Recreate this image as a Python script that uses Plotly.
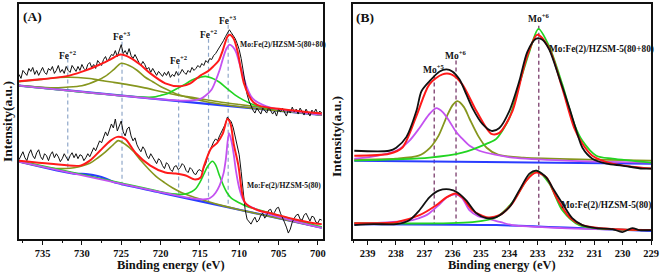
import numpy as np
import plotly.graph_objects as go

# ================= Panel A : Fe 2p (binding energy eV, intensity a.u.) =================
feA_x = np.arange(738.0, 699.49, -0.25)  # sampling grid of the raw spectra (155 points)
feA_top_raw = [166, 162, 170, 167, 165, 172, 169, 173, 166, 170,
               165, 169, 173, 168, 166, 172, 170, 174, 167, 170,
               175, 168, 171, 167, 174, 170, 168, 175, 172, 169,
               174, 170, 176, 172, 170, 176, 178, 173, 176, 172,
               180, 177, 175, 181, 184, 179, 182, 186, 185, 190,
               184, 189, 196, 187, 190, 186, 192, 185, 182, 186,
               181, 178, 175, 179, 176, 171, 173, 168, 172, 169,
               165, 169, 167, 164, 168, 165, 169, 163, 166, 164,
               169, 165, 167, 171, 168, 166, 170, 168, 173, 170,
               172, 175, 173, 177, 175, 180, 178, 182, 181, 185,
               187, 190, 193, 197, 200, 204, 207, 211, 208, 205,
               202, 197, 191, 182, 170, 157, 146, 139, 134, 130,
               127, 132, 129, 126, 132, 129, 127, 133, 130, 126,
               129, 124, 131, 128, 132, 127, 124, 130, 127, 133,
               128, 131, 126, 132, 128, 125, 131, 127, 124, 130,
               127, 131, 126, 129, 127]
feA_bot_raw = [80, 85, 88, 82, 79, 86, 90, 84, 81, 87,
               90, 83, 80, 86, 84, 79, 85, 88, 82, 86,
               83, 78, 81, 86, 83, 79, 84, 87, 82, 86,
               81, 85, 84, 79, 82, 86, 83, 88, 92, 89,
               95, 99, 97, 103, 108, 104, 111, 116, 112, 121,
               109, 114, 119, 108, 104, 111, 113, 104, 99, 102,
               95, 91, 88, 93, 90, 84, 81, 86, 83, 79,
               76, 81, 79, 74, 71, 77, 75, 70, 68, 73,
               74, 70, 72, 76, 74, 69, 67, 72, 70, 66,
               65, 69, 70, 68, 72, 76, 84, 89, 93, 98,
               101, 99, 104, 108, 111, 116, 123, 121, 118, 112,
               104, 96, 85, 68, 47, 30, 20, 17, 15, 19,
               22, 17, 19, 24, 26, 21, 24, 29, 30, 25,
               27, 31, 32, 26, 22, 17, 12, 6, 10, 17,
               21, 24, 25, 20, 19, 24, 26, 21, 18, 23,
               22, 17, 16, 20, 19]

# top sample (80+80) fit
feA_top_fit_x = [738.0, 735.3, 733.0, 731.5, 729.5, 727.7, 726.4, 725.1, 723.9, 722.6, 721.3, 719.4,
                 717.5, 716.2, 714.9, 714.0, 713.3, 712.6, 712.1, 711.5, 711.2, 710.7, 710.2, 709.8,
                 709.4, 708.8, 708.2, 707.3, 704.7, 700.2, 699.5]
feA_top_fit_y = [159, 161, 163, 165, 170, 176, 181, 186, 183, 176, 167, 157,
                 154, 157, 165, 169, 174, 180, 190, 204, 206, 202, 189, 172,
                 157, 145, 138, 134, 131, 127, 126.5]
feA_top_base_x = [738.0, 699.5]
feA_top_base_y = [154.7, 125.1]
feA_top_p1_x = [738, 736, 734, 732, 730.5, 729, 728, 726, 724, 722, 720, 718, 716, 714, 712, 710, 708, 705, 702, 699.5]
feA_top_p1_y = [158.7, 160.2, 162.1, 163.1, 162.9, 161.8, 160.5, 158.0, 155.4, 152.4, 148.8, 145.3, 142.8,
                140.2, 137.7, 135.6, 133.6, 130.3, 127.5, 125.1]
feA_top_p2_x = [738, 734, 732, 730, 728, 727, 726, 725, 724, 723, 722, 721, 720, 719, 718, 716, 714, 712, 708, 699.5]
feA_top_p2_y = [154.7, 152.6, 153.1, 154.5, 160.0, 164.2, 170.5, 177.2, 174.9, 170.2, 163.4, 158.6, 153.8,
                150.1, 146.3, 141.8, 138.2, 135.7, 131.6, 125.1]
feA_top_p3_x = [738, 724, 721, 720, 719, 718, 717, 716, 715, 714.3, 713.5, 712.5, 711.5, 710.5, 709.5,
                708.5, 707, 705, 702, 699.5]
feA_top_p3_y = [154.7, 143.9, 143.1, 144.8, 147.1, 151.3, 155.5, 160.3, 163.0, 164.0, 162.3, 158.1, 151.3,
                145.1, 140.3, 136.5, 132.8, 130.3, 127.0, 125.1]
feA_top_p4_x = [738, 718, 716, 715, 714.3, 713.5, 713, 712.5, 712, 711.6, 711.2, 710.8, 710.4, 710, 709.5,
                709, 708.5, 708, 707, 706, 704, 699.5]
feA_top_p4_y = [154.7, 139.8, 139.8, 141.0, 144.5, 150.8, 159.5, 170.1, 183.7, 192.4, 196.1, 193.8, 188.5,
                178.1, 164.8, 152.4, 144.0, 139.6, 135.3, 132.6, 129.5, 125.1]

# bottom sample (80) fit
feA_bot_fit_x = [738, 734, 730.2, 729.0, 727.7, 726.4, 725.5, 724.5, 723.2, 721.3, 719.4, 718.1, 716.8,
                 715.6, 714.9, 714.5, 713.6, 712.8, 712.1, 711.5, 711.1, 710.7, 710.1, 709.6, 709.2,
                 707.6, 706.0, 703.0, 700.5, 699.5]
feA_bot_fit_y = [79, 76, 74, 79, 89, 99, 103, 101, 87, 74, 67, 66, 64,
                 60, 62, 73, 91, 97, 106, 121, 116, 96, 74, 45, 36,
                 29, 26, 20, 16, 15]
feA_bot_base_x = [738, 731, 729.5, 728, 727, 726, 720, 710, 699.5]
feA_bot_base_y = [78, 65.9, 65.5, 63.5, 61, 57.5, 46.8, 29.5, 11.3]
feA_bot_p2_x = [738, 734, 732, 731, 730, 729, 728, 727, 726, 725.4, 724.5, 723.5, 722.5, 721.5, 720.5,
                719.5, 718.5, 717.5, 716, 714, 712, 710, 699.5]
feA_bot_p2_y = [78.0, 71.6, 71.1, 71.9, 73.6, 76.4, 81.7, 87.9, 95.2, 99.2, 95.6, 88.9, 79.1, 70.4, 62.7,
                56.9, 51.7, 47.5, 42.9, 37.9, 33.4, 29.5, 11.3]
feA_bot_p3_x = [738, 725, 719, 718, 717, 716, 715.5, 715, 714.5, 714, 713.4, 713, 712.5, 712, 711.5, 711,
                710, 709, 708, 706, 703, 700, 699.5]
feA_bot_p3_y = [79, 56.5, 46.1, 45.3, 45.1, 47.9, 51.0, 57.1, 65.3, 73.4, 78.4, 74.7, 63.8, 53.9, 46.1, 41.2,
                36.5, 32.7, 30.5, 26.0, 19.3, 13.1, 12.3]
feA_bot_p4_x = [738, 716, 715, 714, 713.5, 713, 712.5, 712, 711.7, 711.3, 711, 710.7, 710.4, 710, 709.5,
                709, 708, 707, 705, 702, 699.5]
feA_bot_p4_y = [78, 40.9, 40.1, 40.4, 42.5, 46.7, 53.8, 65.9, 80.4, 106.7, 99.2, 85.7, 68.1, 51.5, 39.6,
                34.7, 30.5, 27.3, 22.3, 16.1, 11.3]

fe_pos = [731.8, 724.9, 717.7, 713.9, 711.4]
fe_labels = ["Fe<sup>+2</sup>", "Fe<sup>+3</sup>", "Fe<sup>+2</sup>", "Fe<sup>+2</sup>", "Fe<sup>+3</sup>"]
fe_line_top = [182, 199, 176, 202, 216]
fe_line_bot = [69, 51, 46, 37, 32]
fe_label_y = [186, 205, 181, 207, 221]

# ================= Panel B : Mo 3d =================
moT_raw_x = [239.47, 238.24, 237.99, 237.63, 237.28, 237.10, 236.82, 236.46, 236.22, 236.01, 235.76, 235.52,
             235.30, 234.95, 234.63, 234.35, 234.00, 233.65, 233.36, 233.05, 232.83, 232.59, 232.23, 231.88,
             231.63, 231.42, 231.07, 230.57, 230.01, 229.30, 228.99]
moT_raw_y = [89, 89, 92, 103, 129, 149, 159, 169, 171, 169, 161, 146,
             132, 116, 109, 112, 129, 159, 189, 202, 201, 191, 162, 132,
             109, 92, 81, 76, 74, 71, 71]
moT_fit_x = [239.47, 238.24, 237.78, 237.28, 236.82, 236.36, 236.05, 235.66, 235.16, 234.63, 234.35, 233.89,
             233.40, 233.01, 232.59, 232.13, 231.71, 231.42, 231.07, 230.36, 228.99]
moT_fit_y = [84, 86, 92, 124, 156, 166, 166, 156, 129, 106, 107, 129,
             182, 206, 192, 152, 112, 96, 84, 76, 71]
moT_g_x = [239.47, 236.82, 235.66, 234.81, 234.46, 234.00, 233.65, 233.29, 232.97, 232.59, 232.13, 231.71,
           231.42, 230.93, 230.36, 228.99]
moT_g_y = [79, 82, 87, 96, 101, 122, 156, 189, 212, 194, 156, 116, 99, 84, 81, 77]
moT_o_x = [239.47, 238.0, 237.2, 236.8, 236.5, 236.2, 236.0, 235.83, 235.6, 235.4, 235.1, 234.8, 234.4,
           233.5, 231.0, 228.99]
moT_o_y = [80, 81, 84, 92, 104, 124, 135, 139, 133, 121, 104, 92, 85, 82, 80, 79]
moT_m_x = [239.47, 238.84, 237.99, 237.53, 237.17, 236.85, 236.58, 236.35, 236.12, 235.9, 235.69, 235.4,
           235.06, 234.5, 233.89, 232.0, 228.99]
moT_m_y = [81, 83, 89, 99, 112, 125, 132, 128, 119, 109, 102, 94, 89, 85, 82, 79, 77]
moT_b_x = [239.47, 228.99]
moT_b_y = [79, 76]

moB_raw_x = [239.47, 238.8, 237.99, 237.53, 237.17, 236.82, 236.47, 236.12, 235.83, 235.52, 235.16, 234.81,
             234.46, 234.00, 233.65, 233.29, 233.05, 232.69, 232.48, 232.13, 231.78, 231.42, 230.93, 230.36,
             230.01, 229.66, 229.41, 228.99]
moB_raw_y = [14, 15, 15, 19, 29, 42, 49, 50, 47, 39, 26, 21,
             22, 32, 49, 66, 69, 62, 52, 36, 21, 14, 11, 10,
             7, 11, 9, 9]
moB_fit_x = [239.47, 237.99, 237.17, 236.58, 236.22, 235.90, 235.66, 235.30, 234.81, 234.35, 233.89, 233.40,
             233.05, 232.69, 232.34, 231.88, 231.42, 230.36, 228.99]
moB_fit_y = [16, 17, 24, 34, 42, 46, 42, 29, 22, 24, 36, 59, 67, 62, 42, 22, 14, 10, 9]
moB_m_x = [239.47, 238.5, 237.42, 237.0, 236.82, 236.5, 236.2, 235.9, 235.66, 235.41, 235.1, 234.81, 234.3,
           233.89, 232.13, 228.99]
moB_m_y = [16, 16.5, 19, 23, 26, 34, 42, 45, 41, 29, 23, 21, 17, 14, 11, 9]
moB_g_x = [239.47, 235.30, 234.46, 233.89, 233.40, 233.05, 232.59, 232.13, 231.53, 228.99]
moB_g_y = [16, 17, 22, 37, 59, 69, 56, 29, 14, 9]
moB_b_x = [239.47, 234.46, 228.99]
moB_b_y = [15, 14, 8]

mo_pos = [236.65, 235.88, 232.96]
mo_labels = ["Mo<sup>+5</sup>", "Mo<sup>+6</sup>", "Mo<sup>+6</sup>"]
mo_line_top = [165, 180, 215]
mo_line_bot = [16, 16, 14]
mo_label_y = [171, 186, 223]

sample_labels = ["Mo:Fe(2)/HZSM-5(80+80)", "Mo:Fe(2)/HZSM-5(80)"]

# ---------------- colours ----------------
C_BLACK = "#111111"
C_RED = "#ff1a1a"
C_OLIVE = "#86961e"
C_GREEN = "#22d422"
C_MAG = "#c452f0"
C_BLUE = "#2a3cff"
C_DASH_A = "#8fa7c9"
C_DASH_B = "#7a3b6b"

fig = go.Figure()


def line(x, y, color, width, ax, shape="spline", dash=None):
    fig.add_trace(go.Scatter(x=x, y=y, mode="lines", xaxis=ax[0], yaxis=ax[1],
                             line=dict(color=color, width=width, shape=shape, dash=dash,
                                       smoothing=0.8 if shape == "spline" else None),
                             hoverinfo="skip"))


A = ("x", "y")
B = ("x2", "y2")

for p, t, b in zip(fe_pos, fe_line_top, fe_line_bot):
    line([p, p], [t, b], C_DASH_A, 1.2, A, shape="linear", dash="4px,3px")
for p, t, b in zip(mo_pos, mo_line_top, mo_line_bot):
    line([p, p], [t, b], C_DASH_B, 1.3, B, shape="linear", dash="4px,3px")

# panel A top
line(feA_top_base_x, feA_top_base_y, C_BLUE, 2.2, A, shape="linear")
line(feA_top_p1_x, feA_top_p1_y, C_OLIVE, 1.6, A)
line(feA_top_p2_x, feA_top_p2_y, C_OLIVE, 1.6, A)
line(feA_top_p3_x, feA_top_p3_y, C_GREEN, 1.6, A)
line(feA_top_p4_x, feA_top_p4_y, C_MAG, 1.8, A)
line(list(feA_x), feA_top_raw, C_BLACK, 1.0, A, shape="linear")
line(feA_top_fit_x, feA_top_fit_y, C_RED, 2.0, A)
# panel A bottom
line(feA_bot_base_x, feA_bot_base_y, C_BLUE, 2.2, A)
line(feA_bot_p2_x, feA_bot_p2_y, C_OLIVE, 1.6, A)
line(feA_bot_p3_x, feA_bot_p3_y, C_GREEN, 1.6, A)
line(feA_bot_p4_x, feA_bot_p4_y, C_MAG, 1.8, A)
line(list(feA_x), feA_bot_raw, C_BLACK, 1.0, A, shape="linear")
line(feA_bot_fit_x, feA_bot_fit_y, C_RED, 2.0, A)

# panel B top
line(moT_b_x, moT_b_y, C_BLUE, 2.0, B, shape="linear")
line(moT_o_x, moT_o_y, C_OLIVE, 1.8, B)
line(moT_m_x, moT_m_y, C_MAG, 1.8, B)
line(moT_g_x, moT_g_y, C_GREEN, 1.8, B)
line(moT_fit_x, moT_fit_y, C_RED, 2.0, B)
line(moT_raw_x, moT_raw_y, C_BLACK, 1.8, B)
# panel B bottom
line(moB_b_x, moB_b_y, C_BLUE, 2.0, B)
line(moB_m_x, moB_m_y, C_MAG, 1.8, B)
line(moB_g_x, moB_g_y, C_GREEN, 1.8, B)
line(moB_fit_x, moB_fit_y, C_RED, 2.0, B)
line(moB_raw_x, moB_raw_y, C_BLACK, 1.8, B)

SERIF = "Liberation Serif"
tickfont = dict(family=SERIF, size=10.5, color="#111", weight="bold")
common_x = dict(showgrid=False, zeroline=False, showline=True, mirror=True, linecolor="#111",
                linewidth=1.5, ticks="outside", ticklen=4, tickwidth=1.2, tickcolor="#111",
                tickfont=tickfont)
common_y = dict(showgrid=False, zeroline=False, showline=True, mirror=True, linecolor="#111",
                linewidth=1.5, showticklabels=False, ticks="", range=[0, 237])

fig.update_layout(
    width=661, height=273,
    margin=dict(l=19, r=9, t=2, b=34),
    paper_bgcolor="white", plot_bgcolor="white",
    showlegend=False,
    xaxis=dict(domain=[0, 0.4803], range=[738.0, 699.4], tick0=700, dtick=5,
               minor=dict(dtick=2.5, ticklen=2.5, tickcolor="#111", ticks="outside"), anchor="y", **common_x),
    yaxis=dict(domain=[0, 1], anchor="x", **common_y),
    xaxis2=dict(domain=[0.5292, 1], range=[239.5, 229.0], tick0=229, dtick=1,
                minor=dict(dtick=0.5, ticklen=2.5, tickcolor="#111", ticks="outside"), anchor="y2", **common_x),
    yaxis2=dict(domain=[0, 1], anchor="x2", **common_y),
)

ann = []
def txt(text, x, y, xref, yref, size, **kw):
    ann.append(dict(text=text, x=x, y=y, xref=xref, yref=yref, showarrow=False,
                    font=dict(family=SERIF, size=size, color="#111", weight="bold"), **kw))

for p, lab, yy in zip(fe_pos, fe_labels, fe_label_y):
    txt(lab, p, yy, "x", "y", 9.5, xanchor="center", yanchor="middle")
for p, lab, yy in zip(mo_pos, mo_labels, mo_label_y):
    txt(lab, p, yy, "x2", "y2", 9.5, xanchor="center", yanchor="middle")

txt(sample_labels[0], 710.2, 196, "x", "y", 7.6, xanchor="left", yanchor="middle")
txt(sample_labels[1], 709.3, 54, "x", "y", 7.6, xanchor="left", yanchor="middle")
txt(sample_labels[0], 232.66, 191, "x2", "y2", 9.3, xanchor="left", yanchor="middle")
txt(sample_labels[1], 232.23, 34, "x2", "y2", 9.3, xanchor="left", yanchor="middle")

txt("(A)", 0.0213, 0.945, "paper", "paper", 13.5, xanchor="center", yanchor="middle")
txt("(B)", 0.548, 0.941, "paper", "paper", 13.5, xanchor="center", yanchor="middle")
txt("Binding energy (eV)", 0.2401, -0.1097, "paper", "paper", 12.5, xanchor="center", yanchor="middle")
txt("Binding energy (eV)", 0.7646, -0.1097, "paper", "paper", 12.5, xanchor="center", yanchor="middle")
txt("Intensity(a.u.)", -0.019, 0.502, "paper", "paper", 13.5, xanchor="center", yanchor="middle",
    textangle=-90)
txt("Intensity(a.u.)", 0.5032, 0.4346, "paper", "paper", 13.5, xanchor="center", yanchor="middle",
    textangle=-90)

fig.update_layout(annotations=ann)
fig.write_html("out.html", config={"displayModeBar": False},
               post_script="document.body.style.margin='0';document.body.style.padding='0';")
